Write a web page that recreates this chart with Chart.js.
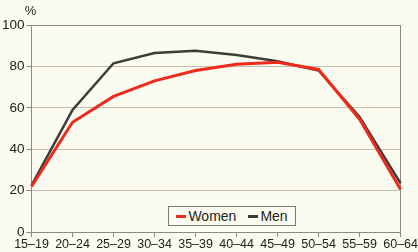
<!DOCTYPE html>
<html>
<head>
<meta charset="utf-8">
<script src="https://cdn.jsdelivr.net/npm/chart.js@4.4.0/dist/chart.umd.min.js"></script>
<style>
  html, body { margin: 0; padding: 0; background: #fcfbef; }
  #wrap { position: relative; width: 418px; height: 252px; }
  #legend {
    position: absolute; left: 168px; top: 206px; width: 126px; height: 18px;
    border: 1px solid #7a7a72; background: #fcfbef;
    font: 14px "Liberation Sans", Arial, sans-serif; color: #222;
    display: flex; align-items: center; justify-content: center; gap: 12px; line-height: 18px;
  }
  #legend span { display: flex; align-items: center; }
  #legend i { display: inline-block; width: 10px; height: 3px; margin-right: 2px; }
</style>
</head>
<body>
<div id="wrap">
  <canvas id="c" width="418" height="252"></canvas>
  <div id="legend">
    <span><i style="background:#ee2a1c"></i>Women</span>
    <span><i style="background:#3c3c38"></i>Men</span>
  </div>
</div>
<script>
const ageGroups = ['15–19', '20–24', '25–29', '30–34', '35–39', '40–44', '45–49', '50–54', '55–59', '60–64'];
const women = [22, 53, 65.5, 73, 78, 81, 82, 78.5, 54.5, 20.5];
const men = [22.5, 59, 81.5, 86.5, 87.5, 85.5, 82.5, 78, 55.5, 23.5];
const yTicks = [0, 20, 40, 60, 80, 100];

const font = { family: '"Liberation Sans", Arial, sans-serif', size: 12.5 };
const gridColor = '#c4bfa8';
const axisColor = '#8a8a80';

const percentLabel = {
  id: 'percentLabel',
  afterDraw(chart) {
    const { ctx } = chart;
    ctx.save();
    ctx.font = `13px ${font.family}`;
    ctx.fillStyle = '#222';
    ctx.textAlign = 'center';
    ctx.textBaseline = 'alphabetic';
    ctx.fillText('%', chart.chartArea.left - 1, 15);
    ctx.restore();
  },
};

// eslint-disable-next-line no-undef, no-unused-vars
const chart = new Chart(document.getElementById('c'), {
  type: 'line',
  data: {
    labels: ageGroups,
    datasets: [
      { label: 'Women', data: women, borderColor: '#ee2a1c', borderWidth: 3, pointRadius: 0, tension: 0 },
      { label: 'Men', data: men, borderColor: '#3c3c38', borderWidth: 2.5, pointRadius: 0, tension: 0 },
    ],
  },
  options: {
    responsive: false,
    animation: false,
    layout: { padding: { top: 25, right: 0, left: 0, bottom: 0 } },
    plugins: {
      legend: { display: false },
      tooltip: { enabled: false },
    },
    scales: {
      x: {
        offset: false,
        grid: {
          color: (c) => (c.index === ageGroups.length - 1 ? axisColor : 'transparent'),
          tickColor: axisColor,
          tickLength: 5,
          drawOnChartArea: true,
        },
        border: { color: axisColor },
        ticks: { color: '#222', font, padding: 0, maxRotation: 0, autoSkip: false },
      },
      y: {
        min: 0,
        max: 100,
        afterBuildTicks: (s) => { s.ticks = yTicks.map((v) => ({ value: v })); },
        grid: {
          color: (c) => (c.tick.value === 100 ? axisColor : gridColor),
          tickColor: axisColor,
          tickLength: 5,
        },
        border: { color: axisColor },
        ticks: { color: '#222', font: { family: font.family, size: 13.5 }, padding: 2 },
      },
    },
  },
  plugins: [percentLabel],
});
</script>
</body>
</html>
